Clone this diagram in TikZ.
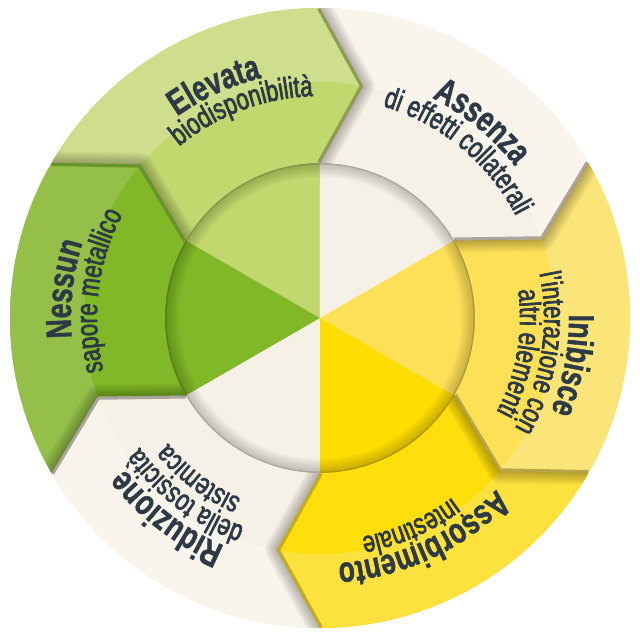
\documentclass[tikz,border=0pt]{standalone}
\usepackage{fontspec}
\usetikzlibrary{decorations.text}
\newfontfamily\ttlfont{Liberation Sans Bold}[FakeStretch=0.74,FakeBold=1.2]
\newfontfamily\subfont{Liberation Sans}[FakeStretch=0.74,FakeBold=2.2]
\definecolor{txt}{RGB}{45,58,70}
% ring colours (outer / inner halves)
\definecolor{elO}{RGB}{207,222,140}\definecolor{elI}{RGB}{194,215,110}
\definecolor{neO}{RGB}{148,192,74}\definecolor{neI}{RGB}{128,184,39}
\definecolor{crO}{RGB}{249,245,237}\definecolor{crI}{RGB}{246,241,231}
\definecolor{asO}{RGB}{253,225,60}\definecolor{asI}{RGB}{255,222,12}
\definecolor{inO}{RGB}{251,229,120}\definecolor{inI}{RGB}{253,224,85}
% side strips
\definecolor{elS}{RGB}{140,158,80}\definecolor{neS}{RGB}{102,150,40}
\definecolor{crS}{RGB}{172,165,158}\definecolor{asS}{RGB}{198,172,30}
\definecolor{inS}{RGB}{186,166,74}
% centre wedges
\definecolor{elC}{RGB}{194,215,110}\definecolor{neC}{RGB}{128,184,39}
\definecolor{crC}{RGB}{246,241,231}\definecolor{asC}{RGB}{255,221,0}
\definecolor{inC}{RGB}{253,224,88}
\newcommand\segpath[1]{(#1-10.5:236pt) -- (#1:310pt) arc[start angle=#1, end angle=#1-60, radius=310pt] -- (#1-70.5:236pt) -- (#1-60:155pt) arc[start angle=#1-60, end angle=#1, radius=155pt] -- cycle}
\newcommand\outpiece[1]{(#1-10.5:236pt) -- (#1:310pt) arc[start angle=#1, end angle=#1-60, radius=310pt] -- (#1-70.5:236pt) arc[start angle=#1-70.5, end angle=#1-10.5, radius=236pt] -- cycle}
\newcommand\tippath[1]{(#1-60:310pt) -- (#1-70.5:236pt) -- (#1-60:155pt)}
\newcommand\ttlstyle{\ttlfont\fontsize{36pt}{38pt}\selectfont\color{txt}}
\newcommand\substyle{\subfont\fontsize{30pt}{32pt}\selectfont\color{txt}}
\newcommand\arctext[4]{\path[decorate, decoration={text along path, text align=center, text={|#1|#4}}] (#2+50:#3) arc[start angle=#2+50, end angle=#2-50, radius=#3];}
\begin{document}
\begin{tikzpicture}[x=1pt,y=1pt]
\useasboundingbox (-320pt,-320pt) rectangle (320pt,318pt);
\fill[white] (-320pt,-320pt) rectangle (320pt,318pt);
% centre wedges
\foreach \a/\c in {150/elC, 90/crC, 30/inC, -30/asC, -90/crC, 210/neC}
  \fill[\c] (0,0) -- (\a:158pt) arc[start angle=\a, end angle=\a-60, radius=158pt] -- cycle;
% inner rim shadow
\foreach \w in {3,6,...,30}
  \draw[black, opacity=0.025, line width=\w pt] (0,0) circle (156pt);
\draw[black, opacity=0.12, line width=5pt] (0,0) circle (156pt);
% ring segments
\foreach \a/\ci/\co in {150/elI/elO, 90/crI/crO, 30/inI/inO, -30/asI/asO, -90/crI/crO, 210/neI/neO} {
  \fill[\ci] \segpath{\a};
  \fill[\co] \outpiece{\a};
}
% tip side faces and cast shadows
\foreach \a/\cs in {150/elS, 90/crS, 30/inS, -30/asS, -90/crS, 210/neS} {
  \begin{scope}
    \clip \segpath{\a};
    \draw[\cs, line width=6pt, line join=miter] \tippath{\a};
  \end{scope}
  \begin{scope}
    \clip \segpath{\a-60};
    \foreach \w in {3,6,...,24}
      \draw[black, opacity=0.035, line width=\w pt, line join=round] \tippath{\a};
  \end{scope}
}
% labels
\arctext{\ttlstyle}{114.5}{247pt}{Elevata}
\arctext{\substyle}{110.6}{222pt}{biodisponibilità}
\arctext{\ttlstyle}{50.5}{247pt}{Assenza}
\arctext{\substyle}{50.5}{221pt}{di effetti collaterali}
\arctext{\ttlstyle}{-10.6}{249pt}{Inibisce}
\arctext{\substyle}{-9}{224pt}{l’interazione con}
\arctext{\substyle}{-10}{200pt}{altri elementi}
\arctext{\ttlstyle}{-65}{246pt}{Assorbimento}
\arctext{\substyle}{-66.5}{223pt}{intestinale}
\arctext{\ttlstyle}{232.5}{247pt}{Riduzione}
\arctext{\substyle}{232.9}{222pt}{della tossicità}
\arctext{\substyle}{233}{197pt}{sistemica}
\arctext{\ttlstyle}{173.5}{249pt}{Nessun}
\arctext{\substyle}{173}{223pt}{sapore metallico}
\end{tikzpicture}
\end{document}
